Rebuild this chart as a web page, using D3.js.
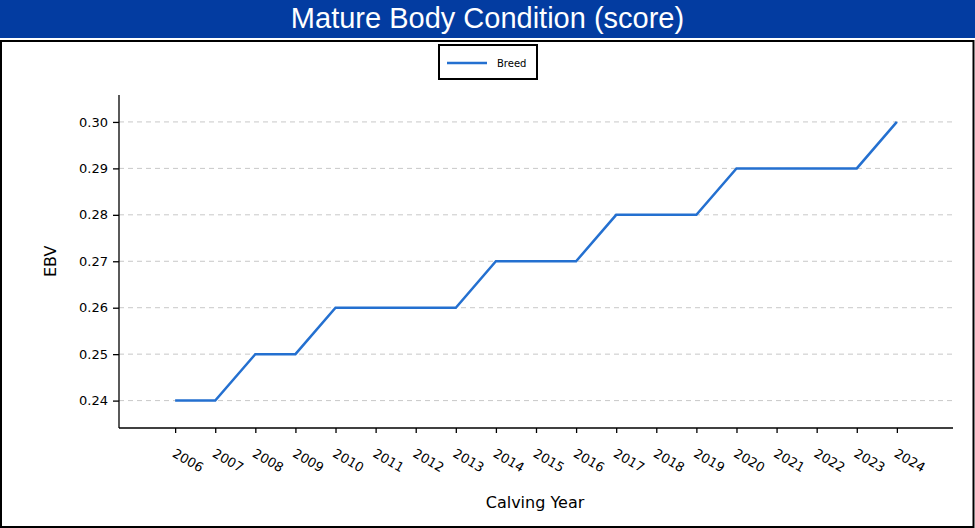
<!DOCTYPE html>
<html>
<head>
<meta charset="utf-8">
<script src="https://cdn.jsdelivr.net/npm/d3@7"></script>
<style>
	html, body { margin: 0; padding: 0; background: #fff; }
	#chart { width: 975px; height: 528px; position: relative; }
</style>
</head>
<body>
<div id="chart"></div>
<script>
// chart data
const years = [2006, 2007, 2008, 2009, 2010, 2011, 2012, 2013, 2014, 2015, 2016, 2017, 2018, 2019, 2020, 2021, 2022, 2023, 2024];
const breedEbv = [0.24, 0.24, 0.25, 0.25, 0.26, 0.26, 0.26, 0.26, 0.27, 0.27, 0.27, 0.28, 0.28, 0.28, 0.29, 0.29, 0.29, 0.29, 0.30];
const yTicks = [0.24, 0.25, 0.26, 0.27, 0.28, 0.29, 0.30];
const chartTitle = 'Mature Body Condition (score)';
const seriesName = 'Breed';

const width = 975, height = 528;
const margin = {top: 95, right: 22, bottom: 100, left: 119};
const innerWidth = width - margin.left - margin.right,
	innerHeight = height - margin.top - margin.bottom;

const svg = d3.select('#chart')
	.append('svg')
	.attr('width', width)
	.attr('height', height);

// ----------------------------------
// TITLE BAR + FRAME
// ----------------------------------
svg.append('rect')
	.attr('x', 0).attr('y', 0)
	.attr('width', width).attr('height', 38)
	.style('fill', '#033ca1');

svg.append('text')
	.text(chartTitle)
	.attr('x', width / 2)
	.attr('y', 28)
	.attr('text-anchor', 'middle')
	.style('font-family', '"Liberation Sans", Arial, sans-serif')
	.style('font-size', '29px')
	.style('fill', '#fff');

svg.append('rect')
	.attr('x', 1).attr('y', 41)
	.attr('width', width - 2.5).attr('height', height - 42)
	.style('fill', 'none')
	.style('stroke', '#000')
	.style('stroke-width', 2);

// ----------------------------------
// SCALES
// ----------------------------------
const xScale = d3.scaleLinear()
	.domain([2004.6, 2025.4])
	.range([0, innerWidth]);

const yScale = d3.scaleLinear()
	.domain([0.2341, 0.3058])
	.range([innerHeight, 0]);

const chartInner = svg.append('g')
	.attr('transform', `translate(${margin.left},${margin.top})`);

// gridlines
chartInner.append('g')
	.selectAll('line')
	.data(yTicks)
	.enter()
	.append('line')
		.attr('x1', 0)
		.attr('x2', innerWidth)
		.attr('y1', d => yScale(d))
		.attr('y2', d => yScale(d))
		.style('stroke', '#c8c8c8')
		.style('stroke-width', 1)
		.style('stroke-dasharray', '5,4');

// axes
const yAxis = d3.axisLeft(yScale)
	.tickValues(yTicks)
	.tickFormat(d3.format('.2f'))
	.tickSize(6)
	.tickPadding(5);

const xAxis = d3.axisBottom(xScale)
	.tickValues(years)
	.tickFormat(d3.format('d'))
	.tickSize(5)
	.tickSizeOuter(0);

const yG = chartInner.append('g')
	.call(yAxis);
yG.select('.domain').attr('d', `M0,0V${innerHeight}`);

const xG = chartInner.append('g')
	.attr('transform', `translate(0,${innerHeight})`)
	.call(xAxis);
xG.select('.domain').attr('d', `M0,0H${innerWidth}`);

[yG, xG].forEach(g => {
	g.selectAll('.domain, .tick line').style('stroke', '#000').style('stroke-width', 1.3);
	g.selectAll('text')
		.style('font-family', '"DejaVu Sans", sans-serif')
		.style('font-size', '13px')
		.style('fill', '#000');
});

xG.selectAll('.tick text')
	.attr('text-anchor', 'start')
	.attr('dy', '0.8em')
	.attr('y', 0)
	.attr('transform', 'translate(1,19) rotate(30)');

// ----------------------------------
// LINE
// ----------------------------------
const line = d3.line()
	.x((d, i) => xScale(years[i]))
	.y(d => yScale(d));

chartInner.append('path')
	.datum(breedEbv)
	.attr('d', line)
	.style('fill', 'none')
	.style('stroke', '#2470d0')
	.style('stroke-width', 2.5);

// ----------------------------------
// AXIS LABELS
// ----------------------------------
svg.append('text')
	.text('Calving Year')
	.attr('x', margin.left + innerWidth / 2 - 1)
	.attr('y', 508)
	.attr('text-anchor', 'middle')
	.style('font-family', '"DejaVu Sans", sans-serif')
	.style('font-size', '16px');

svg.append('text')
	.text('EBV')
	.attr('transform', `translate(56,${margin.top + yScale(0.27)}) rotate(-90)`)
	.attr('text-anchor', 'middle')
	.style('font-family', '"DejaVu Sans", sans-serif')
	.style('font-size', '16px');

// ----------------------------------
// LEGEND
// ----------------------------------
const legend = svg.append('g').attr('transform', 'translate(439,45)');
legend.append('rect')
	.attr('width', 98).attr('height', 34)
	.style('fill', '#fff')
	.style('stroke', '#000')
	.style('stroke-width', 2);
legend.append('line')
	.attr('x1', 8).attr('x2', 48)
	.attr('y1', 18).attr('y2', 18)
	.style('stroke', '#2470d0')
	.style('stroke-width', 2.5);
legend.append('text')
	.text(seriesName)
	.attr('x', 58).attr('y', 22)
	.style('font-family', '"DejaVu Sans", sans-serif')
	.style('font-size', '10px');
</script>
</body>
</html>
